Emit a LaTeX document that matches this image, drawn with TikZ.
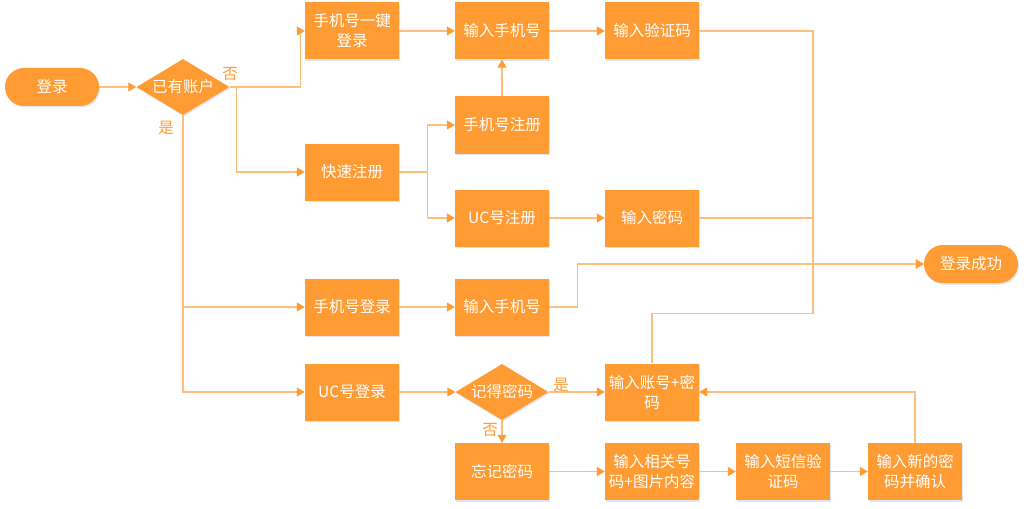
\documentclass[tikz,border=0pt]{standalone}
\usepackage{fontspec}
\newfontfamily\cjk{Noto Sans CJK SC}
\usetikzlibrary{arrows.meta,shapes.geometric,shadows}
\definecolor{boxc}{HTML}{FF9B33}
\definecolor{linec}{HTML}{FFBE7F}
\definecolor{tipc}{HTML}{FF9B33}
\definecolor{shadc}{HTML}{C9D6E6}
\begin{document}
\begin{tikzpicture}[x=1pt,y=-1pt,
  base/.style={fill=boxc,text=white,font=\cjk\fontsize{15.5}{20}\selectfont,align=center,inner sep=0pt,
    drop shadow={shadow xshift=1pt,shadow yshift=-1.5pt,fill=shadc,opacity=0.6}},
  box/.style={base,rectangle,minimum width=94pt,minimum height=57pt},
  pill/.style={base,rectangle,rounded corners=19pt,minimum width=94pt,minimum height=38pt},
  dia/.style={base,diamond,aspect=1.66,minimum width=93pt,minimum height=56pt},
  arr/.style={draw=linec,line width=1.3pt,-{Triangle[length=8pt,width=9pt,color=tipc]}},
  ln/.style={draw=linec,line width=1.3pt},
  lab/.style={text=boxc,font=\cjk\fontsize{15.5}{18}\selectfont,inner sep=0pt}]
\useasboundingbox (0,0) rectangle (1024,508);
% nodes
\node[pill] (login) at (52,87) {登录};
\node[dia] (has) at (183,87) {已有账户};
\node[box] (onekey) at (352,31) {手机号一键\\登录};
\node[box] (quick) at (352,172) {快速注册};
\node[box] (inphone1) at (502,31) {输入手机号};
\node[box] (vcode) at (652,31) {输入验证码};
\node[box] (phonereg) at (502,125) {手机号注册};
\node[box] (ucreg) at (502,218) {UC号注册};
\node[box] (pwd) at (652,218) {输入密码};
\node[pill] (success) at (971,264) {登录成功};
\node[box] (phonelogin) at (352,307) {手机号登录};
\node[box] (uclogin) at (352,392) {UC号登录};
\node[box] (inphone2) at (502,307) {输入手机号};
\node[dia] (remember) at (502,392) {记得密码};
\node[box] (accpwd) at (652,392) {输入账号+密\\码};
\node[box] (forget) at (502,471.5) {忘记密码};
\node[box] (related) at (652,471.5) {输入相关号\\码+图片内容};
\node[box] (sms) at (783,471.5) {输入短信验\\证码};
\node[box] (newpwd) at (915,471.5) {输入新的密\\码并确认};
\coordinate (j) at (813,264);
% labels
\node[lab] (no1) at (230,74) {否};
\node[lab] (yes1) at (166,128) {是};
\node[lab] (yes2) at (561,385) {是};
\node[lab] (no2) at (490,430) {否};
% connectors
\draw[arr] (login.east) -- (has.west);
\draw[arr] (has.east) -- ++(71,0) |- (onekey.west);
\draw[arr] ([xshift=7pt]has.east) |- (quick.west);
\draw[arr] (onekey.east) -- (inphone1.west);
\draw[arr] (inphone1.east) -- (vcode.west);
\draw[arr] (phonereg.north) -- (inphone1.south);
\draw[arr] (quick.east) -- ++(28,0) |- (phonereg.west);
\draw[arr] ([xshift=28pt]quick.east) |- (ucreg.west);
\draw[arr] (ucreg.east) -- (pwd.west);
\draw[arr] (vcode.east) -| (j) -- (success.west);
\draw[ln] (pwd.east) -- (pwd.east -| j);
\draw[ln] (accpwd.north) -- ++(0,-50) -| (j);
\draw[arr] (inphone2.east) -- ++(28,0) |- (success.west);
\draw[arr] (has.south) |- (phonelogin.west);
\draw[arr] (has.south) |- (uclogin.west);
\draw[arr] (phonelogin.east) -- (inphone2.west);
\draw[arr] (uclogin.east) -- (remember.west);
\draw[arr] (remember.east) -- (accpwd.west);
\draw[arr] (remember.south) -- (forget.north);
\draw[arr] (forget.east) -- (related.west);
\draw[arr] (related.east) -- (sms.west);
\draw[arr] (sms.east) -- (newpwd.west);
\draw[arr] (newpwd.north) |- (accpwd.east);
\end{tikzpicture}
\end{document}
